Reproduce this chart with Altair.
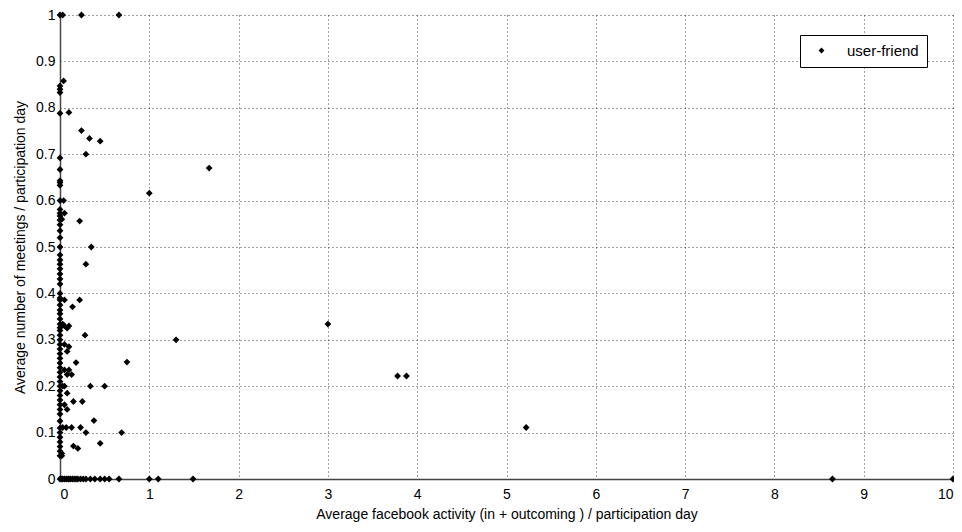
import altair as alt
import pandas as pd

# x: average facebook activity / participation day; y: average meetings / participation day
x_vals = [
    0, 0.03, 0.24, 0.66,
    0.04, 0, 0, 0,
    0, 0.1,
    0.24, 0.33, 0.45, 0.29,
    0, 0, 0, 0, 0, 0, 0.04,
    1.67, 1.0,
    0, 0, 0.05, 0, 0.02, 0, 0.22, 0, 0, 0, 0, 0.35,
    0, 0, 0.29, 0, 0, 0, 0, 0, 0, 0, 0.05, 0.22, 0, 0.14, 0, 0, 0,
    0, 0, 0.03, 0.05, 0.1, 0.08, 0, 0, 0.28, 0, 3.0, 1.3,
    0, 0, 0.05, 0.1, 0, 0.08, 0, 0.18, 0.75, 0, 0, 0, 0.05, 0.1, 0, 0.08, 0, 0.13, 0, 0,
    0.03, 0.05, 0.34, 0.5, 0.08, 0, 0, 0.15, 0.25, 0, 0, 0.05, 0, 0.08, 0, 0.38, 0,
    0, 0.03, 0.07, 0.13, 0.23, 0, 0.29, 0.69, 0, 0.45, 0, 0.15, 0.2, 0, 0, 0.02, 0, 0.02,
    3.78, 3.88, 5.22,
    0, 0.02, 0.03, 0.05, 0.07, 0.09, 0.1, 0.12, 0.14, 0.16, 0.18, 0.2, 0.23, 0.26,
    0.29, 0.34, 0.39, 0.45, 0.5, 0.55, 0.66, 1.0, 1.1, 1.49, 8.65, 10,
]
y_vals = [
    1, 1, 1, 1,
    0.858, 0.847, 0.840, 0.833,
    0.788, 0.79,
    0.751, 0.734, 0.728, 0.70,
    0.692, 0.667, 0.643, 0.639, 0.633, 0.6, 0.6,
    0.67, 0.616,
    0.581, 0.573, 0.573, 0.567, 0.56, 0.558, 0.556, 0.548, 0.535, 0.52, 0.5, 0.5,
    0.483, 0.472, 0.463, 0.463, 0.453, 0.442, 0.431, 0.42, 0.4, 0.39, 0.386, 0.386, 0.386, 0.371, 0.375, 0.364, 0.356,
    0.345, 0.334, 0.334, 0.33, 0.33, 0.325, 0.326, 0.32, 0.31, 0.31, 0.334, 0.3,
    0.3, 0.29, 0.29, 0.285, 0.28, 0.275, 0.27, 0.251, 0.252, 0.26, 0.25, 0.24, 0.235, 0.235, 0.23, 0.225, 0.22, 0.225, 0.21, 0.2,
    0.2, 0.2, 0.2, 0.2, 0.185, 0.19, 0.18, 0.167, 0.167, 0.17, 0.16, 0.16, 0.15, 0.15, 0.14, 0.126, 0.125,
    0.11, 0.111, 0.111, 0.111, 0.111, 0.1, 0.1, 0.1, 0.09, 0.077, 0.08, 0.071, 0.066, 0.07, 0.06, 0.055, 0.05, 0.05,
    0.222, 0.222, 0.111,
    0, 0, 0, 0, 0, 0, 0, 0, 0, 0, 0, 0, 0, 0,
    0, 0, 0, 0, 0, 0, 0, 0, 0, 0, 0, 0,
]
series = ["user-friend"] * len(x_vals)
x_ticks = list(range(0, 11))
y_ticks = [0, 0.1, 0.2, 0.3, 0.4, 0.5, 0.6, 0.7, 0.8, 0.9, 1]

df = pd.DataFrame({"x": x_vals, "y": y_vals, "series": series})

FONT = "Liberation Sans"

chart = alt.Chart(df).mark_point(
    shape="diamond", filled=True, size=46, opacity=1, clip=False
).encode(
    x=alt.X("x:Q",
            scale=alt.Scale(domain=[0, 10], nice=False, zero=False),
            axis=alt.Axis(values=x_ticks, title="Average facebook activity (in + outcoming ) / participation day",
                          format="d", labelPadding=8, titlePadding=6)),
    y=alt.Y("y:Q",
            scale=alt.Scale(domain=[0, 1], nice=False),
            axis=alt.Axis(values=y_ticks, title="Average number of meetings / participation day",
                          format="~g", labelPadding=5, titlePadding=8)),
    color=alt.Color("series:N",
                    scale=alt.Scale(domain=["user-friend"], range=["#000000"]),
                    legend=alt.Legend(title=None, orient="none", legendX=740, legendY=20,
                                      symbolType="diamond", symbolSize=34, symbolFillColor="#000",
                                      labelFontSize=15, labelFont=FONT, labelColor="#000",
                                      padding=8, strokeColor="#000", fillColor="#fff",
                                      symbolOffset=6, labelOffset=18, columnPadding=10)),
).properties(
    width=893, height=464,
    background="#ffffff",
    autosize=alt.AutoSizeParams(type="none"),
    padding={"left": 52, "top": 7, "right": 1, "bottom": 45},
).configure_axis(
    grid=True, gridColor="#000", gridDash=[1, 3], gridOpacity=0.75, gridWidth=1,
    domainColor="#444", domainWidth=1.5, tickSize=0,
    labelFont=FONT, labelFontSize=14, labelColor="#000",
    titleFont=FONT, titleFontSize=14, titleFontWeight="normal", titleColor="#000",
).configure_view(stroke=None)

chart.save("out.html", embed_options={"renderer": "svg", "actions": False})
